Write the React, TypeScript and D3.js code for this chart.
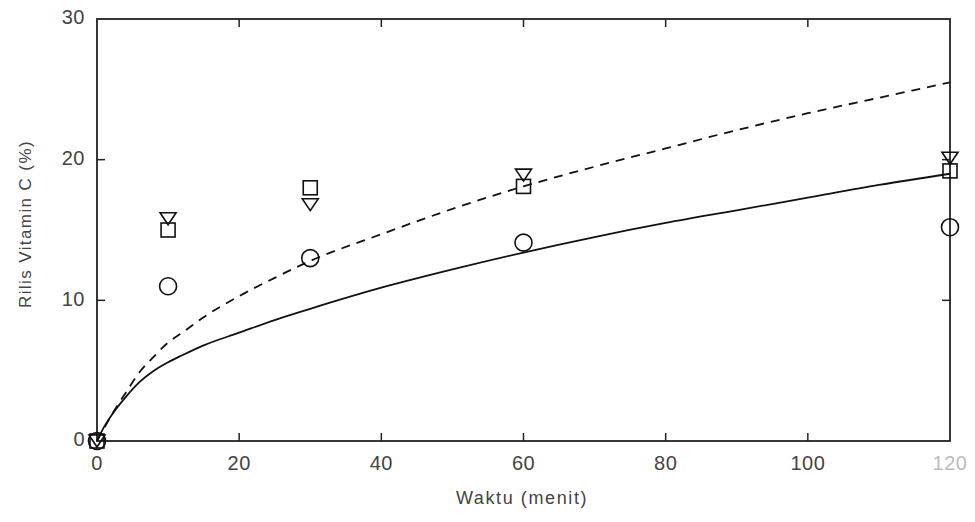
import * as d3 from "d3";

// observed release points (menit, %)
const times = [0, 10, 30, 60, 120];
const circleVals = [0, 11, 13, 14.1, 15.2];
const squareVals = [0, 15, 18, 18.1, 19.2];
const triangleVals = [0, 15.8, 16.8, 18.9, 20.1];

// fitted curves
const curveTimes = [0, 1, 2, 4, 6, 8, 10, 12, 15, 20, 25, 30, 40, 50, 60, 70, 80, 90, 100, 110, 120];
const solidVals = [0, 1.0, 1.8, 3.1, 4.2, 5.0, 5.6, 6.1, 6.8, 7.7, 8.6, 9.4, 10.9, 12.2, 13.4, 14.5, 15.5, 16.4, 17.3, 18.2, 19.0];
const dashedVals = [0, 0.9, 1.8, 3.4, 4.9, 6.0, 7.0, 7.7, 8.8, 10.3, 11.6, 12.8, 14.7, 16.5, 18.1, 19.5, 20.8, 22.1, 23.3, 24.4, 25.5];

const xTicks = [0, 20, 40, 60, 80, 100, 120];
const yTicks = [0, 10, 20, 30];

const W = 975;
const H = 522;
const left = 97;
const right = 950;
const top = 19;
const bottom = 441;

export default function App() {
  const x = d3.scaleLinear().domain([0, 120]).range([left, right]);
  const y = d3.scaleLinear().domain([0, 30]).range([bottom, top]);
  const line = d3
    .line<number>()
    .x((d, i) => x(curveTimes[i]))
    .y((d) => y(d))
    .curve(d3.curveMonotoneX);
  const font = "'Liberation Sans', Arial, sans-serif";
  const tickLen = 8;
  const txt = "#444";

  return (
    <div style={{ position: "absolute", left: 0, top: 0 }}>
      <svg width={W} height={H} style={{ display: "block", background: "#fff" }}>
        {/* frame */}
        <rect x={left} y={top} width={right - left} height={bottom - top} fill="none" stroke="#222" strokeWidth={1.8} />

        {/* inner ticks */}
        {xTicks.slice(1, -1).map((t) => (
          <g key={"xt" + t} stroke="#222" strokeWidth={1.5}>
            <line x1={x(t)} x2={x(t)} y1={bottom} y2={bottom - tickLen} />
            <line x1={x(t)} x2={x(t)} y1={top} y2={top + tickLen} />
          </g>
        ))}
        {yTicks.slice(1, -1).map((t) => (
          <g key={"yt" + t} stroke="#222" strokeWidth={1.5}>
            <line x1={left} x2={left + tickLen} y1={y(t)} y2={y(t)} />
            <line x1={right} x2={right - tickLen} y1={y(t)} y2={y(t)} />
          </g>
        ))}

        {/* tick labels */}
        {xTicks.map((t) => (
          <text
            key={"xl" + t}
            x={x(t)}
            y={465}
            textAnchor="middle"
            dominantBaseline="middle"
            fontFamily={font}
            fontSize={20}
            letterSpacing={0.5}
            fill={t === 120 ? "#bbb" : txt}
          >
            {t}
          </text>
        ))}
        {yTicks.map((t) => (
          <text
            key={"yl" + t}
            x={left - 12}
            y={y(t)}
            textAnchor="end"
            dominantBaseline="middle"
            fontFamily={font}
            fontSize={20}
            letterSpacing={0.5}
            fill={txt}
          >
            {t}
          </text>
        ))}

        {/* axis titles */}
        <text x={522} y={504} textAnchor="middle" fontFamily={font} fontSize={18} letterSpacing={1.6} fill={txt}>
          Waktu (menit)
        </text>
        <text
          transform={`translate(31,${224}) rotate(-90)`}
          textAnchor="middle"
          fontFamily={font}
          fontSize={17}
          letterSpacing={1.4}
          fill={txt}
        >
          Rilis Vitamin C (%)
        </text>

        {/* curves */}
        <path d={line(solidVals) || ""} fill="none" stroke="#111" strokeWidth={1.8} />
        <path d={line(dashedVals) || ""} fill="none" stroke="#111" strokeWidth={1.8} strokeDasharray="9,7" />

        {/* markers */}
        {times.map((t, i) => (
          <circle key={"c" + i} cx={x(t)} cy={y(circleVals[i])} r={8.5} fill="none" stroke="#111" strokeWidth={1.6} />
        ))}
        {times.map((t, i) => (
          <rect
            key={"s" + i}
            x={x(t) - 7}
            y={y(squareVals[i]) - 7}
            width={14}
            height={14}
            fill="none"
            stroke="#111"
            strokeWidth={1.6}
          />
        ))}
        {times.map((t, i) => {
          const cx = x(t);
          const cy = y(triangleVals[i]);
          return (
            <path
              key={"t" + i}
              d={`M${cx - 8},${cy - 6}L${cx + 8},${cy - 6}L${cx},${cy + 6}Z`}
              fill="none"
              stroke="#111"
              strokeWidth={1.6}
            />
          );
        })}
      </svg>
    </div>
  );
}
